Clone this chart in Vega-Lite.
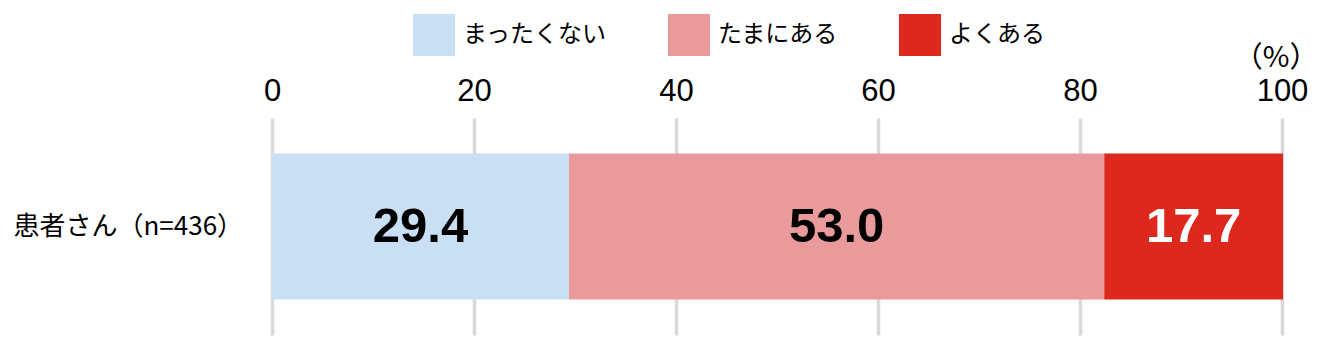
{
  "$schema": "https://vega.github.io/schema/vega-lite/v6.json",
  "width": 1010,
  "height": 217,
  "autosize": "none",
  "padding": {"left": 272, "top": 118, "right": 44, "bottom": 18},
  "background": "white",
  "config": {"view": {"stroke": null}, "font": "Liberation Sans"},
  "data": {"values": [
    {"group": "患者さん（n=436）", "answer": "まったくない", "value": 29.4, "order": 1},
    {"group": "患者さん（n=436）", "answer": "たまにある", "value": 53.0, "order": 2},
    {"group": "患者さん（n=436）", "answer": "よくある", "value": 17.7, "order": 3}
  ]},
  "transform": [
    {"stack": "value", "groupby": ["group"], "sort": [{"field": "order"}], "as": ["v0", "v1"]},
    {"calculate": "(datum.v0 + datum.v1) / 2", "as": "mid"}
  ],
  "encoding": {
    "y": {
      "field": "group", "type": "nominal",
      "scale": {"paddingInner": 0, "paddingOuter": 0.2432},
      "axis": {
        "title": null, "domain": false, "ticks": false,
        "labelAlign": "left", "labelPadding": 259, "labelLimit": 0,
        "labelFont": "Noto Sans CJK JP", "labelFontSize": 26, "labelColor": "black"
      }
    }
  },
  "layer": [
    {
      "mark": {"type": "bar"},
      "encoding": {
        "x": {
          "field": "v0", "type": "quantitative",
          "scale": {"domain": [0, 100], "nice": false},
          "axis": {
            "orient": "top", "domain": false, "ticks": false,
            "values": [0, 20, 40, 60, 80, 100], "labelFlush": false,
            "grid": true, "gridColor": "#d9d9d9", "gridWidth": 3.5,
            "labelFont": "Liberation Sans", "labelFontSize": 31,
            "labelColor": "black", "labelPadding": 11,
            "title": "（%）", "titleFont": "Noto Sans CJK JP", "titleFontSize": 29,
            "titleFontWeight": "normal", "titleColor": "black",
            "titleAnchor": "end", "titleAlign": "right", "titleX": 1046, "titlePadding": 3
          }
        },
        "x2": {"field": "v1"},
        "color": {
          "field": "answer", "type": "nominal",
          "scale": {"domain": ["まったくない", "たまにある", "よくある"], "range": ["#C9DFF4", "#E99A9A", "#DD281D"]},
          "legend": {
            "title": null, "orient": "none", "legendX": 141, "legendY": -104,
            "direction": "horizontal", "symbolType": "square", "symbolSize": 1764,
            "symbolStrokeWidth": 0, "labelFont": "Noto Sans CJK JP", "labelFontSize": 24,
            "labelColor": "black", "labelOffset": 8, "columnPadding": 61
          }
        }
      }
    },
    {
      "mark": {"type": "text", "font": "Liberation Sans", "fontWeight": "bold", "fontSize": 49},
      "encoding": {
        "x": {"field": "mid", "type": "quantitative"},
        "text": {"field": "value", "type": "quantitative", "format": ".1f"},
        "color": {"condition": {"test": "datum.answer === 'よくある'", "value": "white"}, "value": "black"}
      }
    }
  ]
}
